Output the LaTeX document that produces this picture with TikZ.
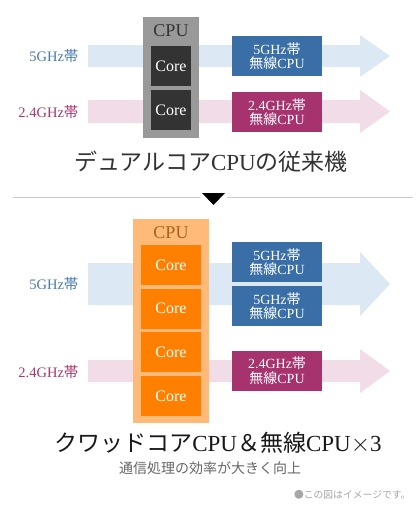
\documentclass[tikz,border=0pt]{standalone}
\usepackage{fontspec}
\setmainfont{Liberation Serif}
\newfontfamily\jp{Noto Sans CJK JP}
\definecolor{bandblue}{HTML}{DCE8F4}
\definecolor{bandpink}{HTML}{F2DCE8}
\definecolor{textblue}{HTML}{4A7AB0}
\definecolor{textpink}{HTML}{A8386E}
\definecolor{boxblue}{HTML}{3A6EA6}
\definecolor{boxpink}{HTML}{A6336E}
\definecolor{cpugray}{HTML}{999999}
\definecolor{coredark}{HTML}{333333}
\definecolor{cpuorange}{HTML}{FFB978}
\definecolor{coreorange}{HTML}{FF8000}
\definecolor{cpubrown}{HTML}{A8641E}
\tikzset{
  cpubox/.style={inner sep=0pt, anchor=center},
  corebox/.style={minimum width=#1, minimum height=40pt, inner sep=0pt, text=white,
    font=\fontsize{16}{16}\selectfont},
  wifibox/.style={fill=#1, minimum width=90pt, minimum height=40pt, inner sep=0pt,
    text=white, align=center, font=\fontsize{14}{14.5}\selectfont},
  bandlabel/.style={anchor=east, text=#1, font=\fontsize{14.5}{15}\selectfont},
}
\begin{document}
\begin{tikzpicture}[x=1pt, y=-1pt]
    \useasboundingbox[fill=white] (0,0) rectangle (420,512);
    % bands, top
    \fill[bandblue] (88,45) -- (360,45) -- (360,35) -- (390,56) -- (360,77) -- (360,67) -- (88,67) -- cycle;
    \fill[bandpink] (88,100) -- (360,100) -- (360,90) -- (390,111.5) -- (360,133) -- (360,123) -- (88,123) -- cycle;
    \node[bandlabel=textblue] (lab5a) at (82,56) {5GHz{\jp 帯}};
    \node[bandlabel=textpink] (lab24a) at (82,111.5) {2.4GHz{\jp 帯}};
    % dual core cpu
    \node[cpubox, fill=cpugray, minimum width=56pt, minimum height=121pt] (cpua) at (171,77.5) {};
    \node[text=coredark, font=\fontsize{18}{18}\selectfont] (cpulaba) at (171,31) {CPU};
    \node[corebox=40pt, fill=coredark] (corea1) at (171,66) {Core};
    \node[corebox=40pt, fill=coredark] (corea2) at (171,110) {Core};
    \node[wifibox=boxblue] (wifia1) at (277,56) {5GHz{\jp 帯}\\{\jp 無線}CPU};
    \node[wifibox=boxpink] (wifia2) at (277,112) {2.4GHz{\jp 帯}\\{\jp 無線}CPU};
    \node[text=coredark, font=\fontsize{23}{23}\selectfont] (titlea) at (211,162) {{\jp デュアルコア}CPU{\jp の従来機}};
    % separator
    \draw[black!20, line width=0.8pt] (13,197) -- (200,197) (227,197) -- (413,197);
    \fill[black] (202,193) -- (225,193) -- (213.5,205) -- cycle;
    % bands, bottom
    \fill[bandblue] (88,263) -- (360,263) -- (360,252) -- (390,284) -- (360,316) -- (360,305) -- (88,305) -- cycle;
    \fill[bandpink] (88,360) -- (360,360) -- (360,349) -- (390,371) -- (360,393) -- (360,382) -- (88,382) -- cycle;
    \node[bandlabel=textblue] (lab5b) at (82,284) {5GHz{\jp 帯}};
    \node[bandlabel=textpink] (lab24b) at (82,372) {2.4GHz{\jp 帯}};
    % quad core cpu
    \node[cpubox, fill=cpuorange, minimum width=76pt, minimum height=204pt] (cpub) at (171,321) {};
    \node[text=cpubrown, font=\fontsize{18}{18}\selectfont] (cpulabb) at (171,233) {CPU};
    \foreach \i/\y in {1/265,2/308.7,3/352.3,4/396}
        \node[corebox=60pt, fill=coreorange] (coreb\i) at (171,\y) {Core};
    \node[wifibox=boxblue] (wifib1) at (277,262) {5GHz{\jp 帯}\\{\jp 無線}CPU};
    \node[wifibox=boxblue] (wifib2) at (277,306) {5GHz{\jp 帯}\\{\jp 無線}CPU};
    \node[wifibox=boxpink] (wifib3) at (277,370.5) {2.4GHz{\jp 帯}\\{\jp 無線}CPU};
    \node[text=black!90, font=\fontsize{23}{23}\selectfont] (titleb) at (218,443) {{\jp クワッドコア}CPU{\jp ＆無線}CPU$\times$3};
    \node[text=black!60, font=\fontsize{14}{14}\selectfont] (subb) at (210,468) {\jp 通信処理の効率が大きく向上};
    \node[anchor=east, text=black!35, font=\fontsize{9.8}{10}\selectfont] (note) at (414,495) {\jp ●この図はイメージです。};
\end{tikzpicture}
\end{document}
